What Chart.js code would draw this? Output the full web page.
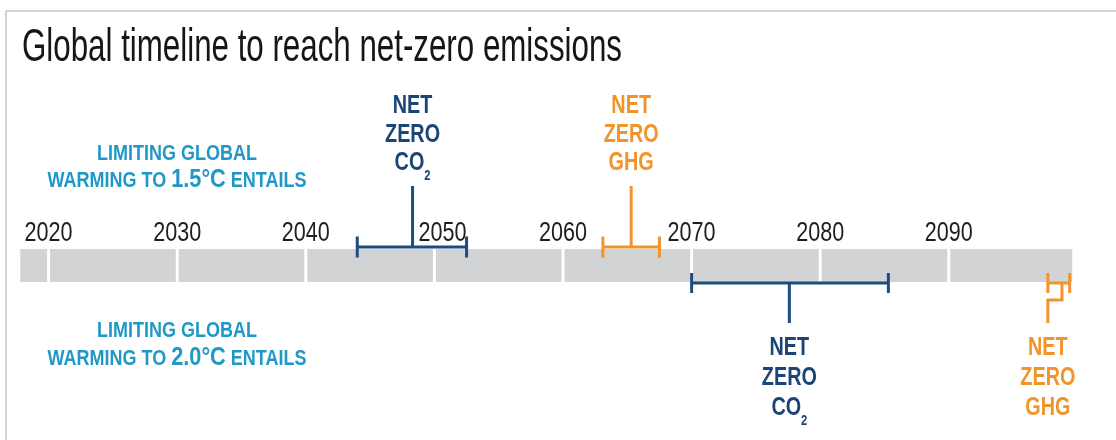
<!DOCTYPE html>
<html>
<head>
<meta charset="utf-8">
<script src="https://cdn.jsdelivr.net/npm/chart.js@4.4.1/dist/chart.umd.min.js"></script>
<style>
  html, body { margin: 0; padding: 0; background: #fff; }
  #wrap { position: relative; width: 1116px; height: 440px; overflow: hidden; }
  #frame { position: absolute; left: 5px; top: 10px; right: 0; bottom: -4px;
           border-top: 2px solid #d3d3d3; border-left: 2px solid #d3d3d3; }
  canvas { position: absolute; left: 0; top: 0; }
</style>
</head>
<body>
<div id="wrap">
  <div id="frame"></div>
  <canvas id="timeline" width="1116" height="440"></canvas>
</div>
<script>
// ---- data ----
const TITLE = 'Global timeline to reach net-zero emissions';
const TICK_YEARS = [2020, 2030, 2040, 2050, 2060, 2070, 2080, 2090];
const AXIS_RANGE = [2016.22, 2103.0];
const BAND_YEARS = [2017.8, 2099.6];
const SCENARIOS = ['1.5°C', '2.0°C'];
const GASES = ['CO2', 'GHG'];
// net-zero year ranges per scenario (1.5°C, 2.0°C)
const CO2_LOW  = [2044.0, 2070.0];
const CO2_MID  = [2048.3, 2077.6];
const CO2_HIGH = [2052.5, 2085.3];
const GHG_LOW  = [2063.1, 2097.7];
const GHG_MID  = [2065.3, 2098.8];
const GHG_HIGH = [2067.5, 2099.4];

// ---- styling / layout ----
const NAVY = '#1d4c83';
const NAVY_TEXT = '#1b4576';
const ORANGE = '#f0942b';
const TEAL = '#1f98c7';
const BAND = '#d1d3d4';
const FONT = "'Liberation Sans Narrow','Arial Narrow','Liberation Sans',Arial,sans-serif";
const BAND_Y = [249, 282];
const ROWS = [
  { bar: 247, stemEnd: 186, capR: 10.5, labelBase: [113, 142, 170], capBase: [160, 187] },
  { bar: 283, stemEnd: 323, capR: 10,   labelBase: [355, 385, 415], capBase: [337, 365] }
];
const GAS_STYLE = {
  CO2: { color: NAVY, text: NAVY_TEXT },
  GHG: { color: ORANGE, text: ORANGE }
};

function rangeDatasets(lo, mid, hi, row, color, jog) {
  const y = row.bar;
  const whisker = {
    data: [{ x: lo, y: y }, { x: hi, y: y }],
    borderColor: color, borderWidth: 3, borderCapStyle: 'butt',
    pointStyle: 'line', pointRotation: 90,
    pointRadius: row.capR, pointHoverRadius: row.capR,
    pointBorderWidth: 3, pointHoverBorderWidth: 3,
    pointBorderColor: color, pointBackgroundColor: color
  };
  let path;
  if (!jog) {
    path = [{ x: mid, y: y }, { x: mid, y: row.stemEnd }];
  } else {
    const yj = y + 17;
    path = [{ x: mid, y: y }, { x: mid, y: yj }, { x: lo, y: yj }, { x: lo, y: row.stemEnd }];
  }
  const leader = {
    data: path, borderColor: color, borderWidth: 3,
    borderJoinStyle: 'miter', borderCapStyle: 'butt', pointRadius: 0, pointHoverRadius: 0
  };
  return [whisker, leader];
}

const datasets = [];
const marks = [];
SCENARIOS.forEach((s, i) => {
  const row = ROWS[i];
  const lastRow = i === SCENARIOS.length - 1;
  [['CO2', CO2_LOW, CO2_MID, CO2_HIGH], ['GHG', GHG_LOW, GHG_MID, GHG_HIGH]].forEach(([gas, L, M, H]) => {
    const jog = lastRow && gas === 'GHG';
    datasets.push(...rangeDatasets(L[i], M[i], H[i], row, GAS_STYLE[gas].color, jog));
    marks.push({ gas, row, labelYear: jog ? L[i] : M[i], stemYear: M[i], up: i === 0 });
  });
});

function measureRuns(ctx, runs) {
  let w = 0;
  runs.forEach(r => { ctx.font = r.font; r.w = ctx.measureText(r.t).width; w += r.w; });
  return w;
}
function drawRuns(ctx, runs, x, y, sx, align) {
  const w = measureRuns(ctx, runs);
  ctx.save();
  ctx.translate(x, y);
  ctx.scale(sx, 1);
  let cx = align === 'center' ? -w / 2 : 0;
  ctx.textAlign = 'left';
  ctx.textBaseline = 'alphabetic';
  runs.forEach(r => {
    ctx.font = r.font;
    ctx.fillStyle = r.color;
    ctx.fillText(r.t, cx, r.dy || 0);
    cx += r.w;
  });
  ctx.restore();
}
function scaleFor(ctx, font, sample, target) {
  ctx.font = font;
  return target / ctx.measureText(sample).width;
}

const timelinePlugin = {
  id: 'timeline',
  beforeDatasetsDraw(chart) {
    const { ctx, scales: { x, y } } = chart;
    const x0 = x.getPixelForValue(BAND_YEARS[0]);
    const x1 = x.getPixelForValue(BAND_YEARS[1]);
    const y0 = y.getPixelForValue(BAND_Y[0]);
    const y1 = y.getPixelForValue(BAND_Y[1]);
    ctx.save();
    ctx.fillStyle = BAND;
    ctx.fillRect(x0, y0, x1 - x0, y1 - y0);
    ctx.strokeStyle = '#ffffff';
    ctx.lineWidth = 3;
    TICK_YEARS.forEach(t => {
      const px = x.getPixelForValue(t);
      ctx.beginPath();
      ctx.moveTo(px, y0);
      ctx.lineTo(px, y1);
      ctx.stroke();
    });
    ctx.restore();
  },
  afterDatasetsDraw(chart) {
    const { ctx, scales: { x } } = chart;

    // title
    const titleFont = `47px ${FONT}`;
    drawRuns(ctx, [{ t: TITLE, font: titleFont, color: '#161616' }], 22, 61,
      scaleFor(ctx, titleFont, TITLE, 600), 'left');

    // year labels, nudged right of any upward leader they would cover
    const yearFont = `28px ${FONT}`;
    const ysx = scaleFor(ctx, yearFont, '2020', 48);
    const stems = marks.filter(m => m.up).map(m => x.getPixelForValue(m.stemYear));
    TICK_YEARS.forEach(t => {
      let cx = x.getPixelForValue(t);
      const half = 24;
      stems.forEach(s => {
        if (s > cx - half - 3 && s < cx + half + 3) cx = s + 6 + half;
      });
      drawRuns(ctx, [{ t: String(t), font: yearFont, color: '#1e1e1e' }], cx, 241, ysx, 'center');
    });

    // net-zero labels
    const bold = `bold 25px ${FONT}`;
    const sub = `bold 14px ${FONT}`;
    const lsx = scaleFor(ctx, bold, 'ZERO', 55);
    marks.forEach(m => {
      const c = GAS_STYLE[m.gas].text;
      const cx = x.getPixelForValue(m.labelYear);
      const b = m.row.labelBase;
      drawRuns(ctx, [{ t: 'NET', font: bold, color: c }], cx, b[0], lsx, 'center');
      drawRuns(ctx, [{ t: 'ZERO', font: bold, color: c }], cx, b[1], lsx, 'center');
      const gasRuns = m.gas === 'CO2'
        ? [{ t: 'CO', font: bold, color: c }, { t: '2', font: sub, color: c, dy: 10 }]
        : [{ t: m.gas, font: bold, color: c }];
      drawRuns(ctx, gasRuns, cx, b[2], lsx, 'center');
    });

    // scenario captions
    const capFont = `bold 21.5px ${FONT}`;
    const bigFont = `bold 26px ${FONT}`;
    const csx = scaleFor(ctx, capFont, 'LIMITING GLOBAL', 160);
    SCENARIOS.forEach((s, i) => {
      const row = ROWS[i];
      drawRuns(ctx, [{ t: 'LIMITING GLOBAL', font: capFont, color: TEAL }], 177, row.capBase[0], csx, 'center');
      drawRuns(ctx, [
        { t: 'WARMING TO ', font: capFont, color: TEAL },
        { t: s, font: bigFont, color: TEAL },
        { t: ' ENTAILS', font: capFont, color: TEAL }
      ], 177, row.capBase[1], csx, 'center');
    });
  }
};

new Chart(document.getElementById('timeline'), {
  type: 'line',
  data: { datasets },
  options: {
    responsive: false,
    animation: false,
    events: [],
    layout: { padding: 0, autoPadding: false },
    elements: { line: { tension: 0 } },
    plugins: { legend: { display: false }, tooltip: { enabled: false }, title: { display: false } },
    scales: {
      x: { type: 'linear', min: AXIS_RANGE[0], max: AXIS_RANGE[1], display: false },
      y: { type: 'linear', min: 0, max: 440, reverse: true, display: false }
    }
  },
  plugins: [timelinePlugin]
});
</script>
</body>
</html>
